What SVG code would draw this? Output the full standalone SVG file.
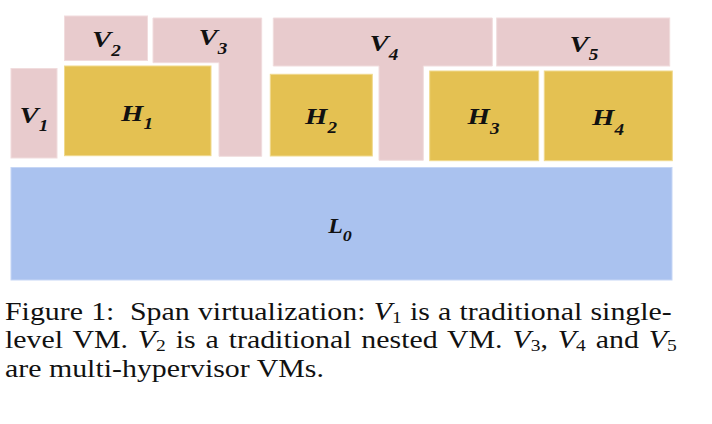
<svg xmlns="http://www.w3.org/2000/svg" width="712" height="424" viewBox="0 0 712 424">
<style>
.v{fill:#e8cbcd;stroke:#f1dcdd;stroke-width:1}
.h{fill:#e4c152;stroke:#f0d98c;stroke-width:1}
.l{fill:#aac2ef;stroke:#c6d6f5;stroke-width:1}
.lb{font-family:"Liberation Serif","Times New Roman",serif;font-weight:bold;font-style:italic;font-size:24px;fill:#111;text-anchor:middle}
.lb .s{font-size:16px}
.cap{font-family:"Liberation Serif","Times New Roman",serif;font-size:24.5px;fill:#111}
.cap .i{font-style:italic}
.cap .s{font-size:16px}
</style>
<rect width="712" height="424" fill="#fff"/>
<g id="L0"><rect class="l" x="11" y="167.5" width="661" height="112.5"/>
<text class="lb" style="font-size:20px" transform="translate(340,233.3) scale(1.2,1)">L<tspan class="s" style="font-size:15px" dy="8">0</tspan></text></g>
<g id="V1"><rect class="v" x="11" y="68.5" width="46" height="89.5"/>
<text class="lb" transform="translate(34,122.7) scale(1.2,1)">V<tspan class="s" dy="8.5">1</tspan></text></g>
<g id="V2"><rect class="v" x="64.5" y="16" width="83" height="44.5"/>
<text class="lb" transform="translate(106.5,46.7) scale(1.2,1)">V<tspan class="s" dy="9">2</tspan></text></g>
<g id="V3"><path class="v" d="M153,18H261.7V156.3H219V62.7H153Z"/>
<text class="lb" transform="translate(213,45) scale(1.2,1)">V<tspan class="s" dy="9">3</tspan></text></g>
<g id="V4"><path class="v" d="M273.3,18H492.3V66H423.3V160.3H379V66H273.3Z"/>
<text class="lb" transform="translate(384,51) scale(1.2,1)">V<tspan class="s" dy="9">4</tspan></text></g>
<g id="V5"><rect class="v" x="496.7" y="18" width="173" height="48"/>
<text class="lb" transform="translate(584,51.5) scale(1.2,1)">V<tspan class="s" dy="8.5">5</tspan></text></g>
<g id="H1"><rect class="h" x="64.5" y="66" width="146.5" height="89.7"/>
<text class="lb" transform="translate(137,120.7) scale(1.2,1)">H<tspan class="s" dy="8.5">1</tspan></text></g>
<g id="H2"><rect class="h" x="270.3" y="74.3" width="102" height="81.7"/>
<text class="lb" transform="translate(321,124.3) scale(1.2,1)">H<tspan class="s" dy="9">2</tspan></text></g>
<g id="H3"><rect class="h" x="429.7" y="71" width="109" height="89.7"/>
<text class="lb" transform="translate(483.5,124.3) scale(1.2,1)">H<tspan class="s" dy="10">3</tspan></text></g>
<g id="H4"><rect class="h" x="544.3" y="71" width="128" height="89.7"/>
<text class="lb" transform="translate(608,125) scale(1.2,1)">H<tspan class="s" dy="10">4</tspan></text></g>
<g id="caption" class="cap" transform="scale(1.22,1)">
<text x="4.1" y="320" word-spacing="0.6">Figure 1:<tspan dx="6"> Span</tspan> virtualization: <tspan class="i">V</tspan><tspan class="s" dy="3">1</tspan><tspan dy="-3"> is a traditional single-</tspan></text>
<text x="4.1" y="348.5" word-spacing="1.97">level VM. <tspan class="i">V</tspan><tspan class="s" dy="3">2</tspan><tspan dy="-3"> is a traditional nested VM. </tspan><tspan class="i">V</tspan><tspan class="s" dy="3">3</tspan><tspan dy="-3">, </tspan><tspan class="i">V</tspan><tspan class="s" dy="3">4</tspan><tspan dy="-3"> and </tspan><tspan class="i">V</tspan><tspan class="s" dy="3">5</tspan></text>
<text x="4.1" y="377">are multi-hypervisor VMs.</text>
</g>
</svg>
